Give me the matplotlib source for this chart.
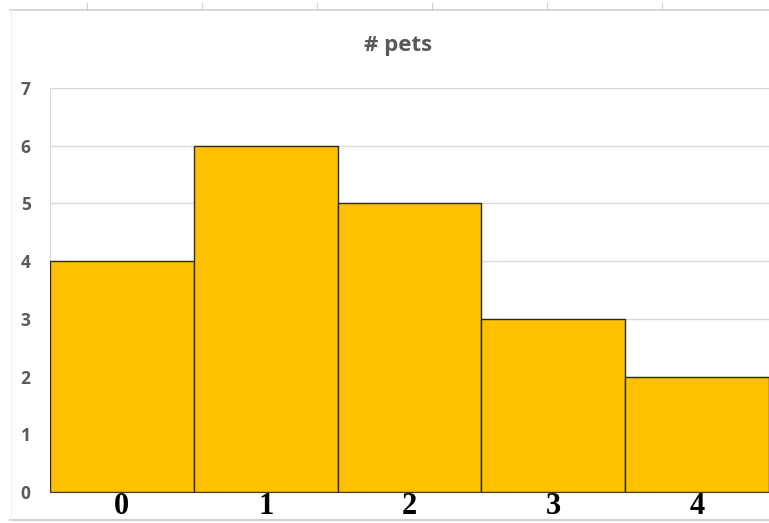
import matplotlib
matplotlib.use('Agg')
import matplotlib.pyplot as plt
from matplotlib.lines import Line2D

# histogram of pet counts
pet_counts = [0, 1, 2, 3, 4]
frequency = [4, 6, 5, 3, 2]
y_ticks = [0, 1, 2, 3, 4, 5, 6, 7]
title = "# pets"

W, H = 769, 523
fig = plt.figure(figsize=(W / 100, H / 100), dpi=100)
fig.patch.set_facecolor('white')

# plot area in pixel terms: left 50, right edge of figure, y 88..492
ax = fig.add_axes([50 / W, 1 - 492 / H, (W - 50) / W, (492 - 88) / H])
ax.bar(pet_counts, frequency, width=1.0, color='#FFC000', edgecolor='#2b2b2b',
       linewidth=1.0, zorder=3)
ax.set_xlim(-0.5, 4.5)
ax.set_ylim(0, 7)
ax.set_yticks(y_ticks)
ax.set_xticks(pet_counts)
ax.yaxis.grid(True, color='#d9d9d9', linewidth=1.0, zorder=0)
ax.set_axisbelow(True)
for side in ('top', 'right'):
    ax.spines[side].set_visible(False)
ax.spines['left'].set_color('#d9d9d9')
ax.spines['bottom'].set_color('#404040')
ax.tick_params(axis='both', length=0)
ax.tick_params(axis='y', pad=14)
for lbl in ax.get_yticklabels():
    lbl.set_fontfamily(['Open Sans', 'DejaVu Sans'])
    lbl.set_fontweight('bold')
    lbl.set_fontsize(12.5)
    lbl.set_color('#595959')
for lbl in ax.get_xticklabels():
    lbl.set_fontfamily(['Liberation Serif', 'DejaVu Serif'])
    lbl.set_fontweight('bold')
    lbl.set_fontsize(22)
    lbl.set_color('black')
ax.tick_params(axis='x', pad=0)

fig.text(398 / W, 1 - 45 / H, title, ha='center', va='center',
         fontsize=16, fontweight='bold', color='#595959',
         family=['Open Sans', 'DejaVu Sans'])

# surrounding sheet lines
fig.add_artist(Line2D([10 / W, 1], [1 - 10 / H, 1 - 10 / H], color='#d0d0d0', lw=1.2))
for x in [87, 202, 317, 432, 547, 662]:
    fig.add_artist(Line2D([x / W, x / W], [1 - 10 / H, 1 - 3 / H], color='#d0d0d0', lw=0.8))
fig.add_artist(Line2D([10 / W, 1], [1 - 520 / H, 1 - 520 / H], color='#d0d0d0', lw=1.5))
fig.add_artist(Line2D([11 / W, 11 / W], [1 - 10 / H, 1 - 520 / H], color='#f0f0f0', lw=0.8))

fig.savefig('out.png', dpi=100)
